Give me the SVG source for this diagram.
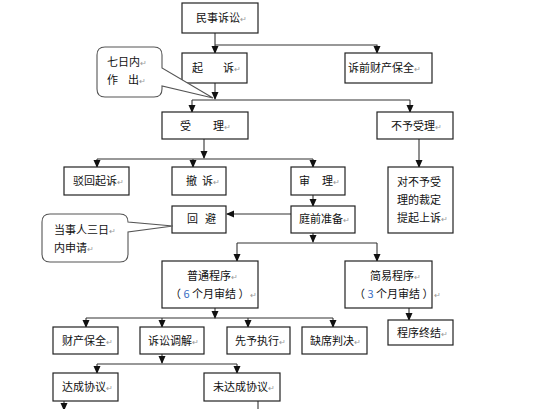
<svg xmlns="http://www.w3.org/2000/svg" width="536" height="409" viewBox="0 0 536 409">
<defs>
<marker id="ar" markerWidth="8" markerHeight="8" refX="7" refY="4" orient="auto" markerUnits="userSpaceOnUse">
<path d="M0,0.5 L8,4 L0,7.5 Z" fill="#111"/>
</marker>
<style>
.b{fill:#fff;stroke:#222;stroke-width:1.2}
.c{fill:#fff;stroke:#555;stroke-width:1.1}
.l{fill:none;stroke:#333;stroke-width:1.1}
.a{fill:none;stroke:#333;stroke-width:1.1;marker-end:url(#ar)}
text{font-family:"Noto Sans CJK SC","Noto Sans",sans-serif;font-size:11px;fill:#111}
.p{fill:#999;font-size:8px}
</style>
</defs>
<rect width="536" height="409" fill="#fff"/>
<g id="connectors">
<path class="a" d="M215,33 V53"/>
<path class="a" d="M215,45 H377 V53"/>
<path class="a" d="M215,83 V99"/>
<path class="l" d="M192,100 H410"/>
<path class="a" d="M192,100 V112"/>
<path class="a" d="M410,100 V112"/>
<path class="a" d="M204,139 V158"/>
<path class="l" d="M97,159 H313"/>
<path class="a" d="M97,159 V167"/>
<path class="a" d="M193,159 V167"/>
<path class="a" d="M313,159 V167"/>
<path class="a" d="M419,139 V167"/>
<path class="a" d="M313,195 V206"/>
<path class="a" d="M291,214 H227"/>
<path class="a" d="M313,233 V242"/>
<path class="l" d="M237,243 H377"/>
<path class="a" d="M237,243 V261"/>
<path class="a" d="M377,243 V261"/>
<path class="a" d="M215,308 V318"/>
<path class="l" d="M86,318 H333"/>
<path class="a" d="M86,318 V327"/>
<path class="a" d="M162,318 V327"/>
<path class="a" d="M248,318 V327"/>
<path class="a" d="M333,318 V327"/>
<path class="a" d="M409,308 V320"/>
<path class="a" d="M162,354 V363"/>
<path class="l" d="M97,364 H237"/>
<path class="a" d="M97,364 V373"/>
<path class="a" d="M237,364 V373"/>
<path class="a" d="M64,401 V410"/>
<path class="l" d="M258,401 V409"/>
</g>
<g id="n-minshi"><rect class="b" x="182" y="3" width="76" height="30"/><text x="196" y="22">民事诉讼<tspan class="p">↵</tspan></text></g>
<g id="n-qisu"><rect class="b" x="182" y="53" width="65" height="30"/><text x="192" y="72">起<tspan dx="20">诉</tspan><tspan class="p">↵</tspan></text></g>
<g id="n-suqian"><rect class="b" x="345" y="53" width="87" height="30"/><text x="348" y="72">诉前财产保全<tspan class="p">↵</tspan></text></g>
<g id="n-callout1"><path class="c" d="M105,47 H154 Q162,47 162,55 V68 L213,98 L162,86 V89 Q162,97 154,97 H105 Q97,97 97,89 V55 Q97,47 105,47 Z"/><text x="107" y="66">七日内<tspan class="p">↵</tspan></text><text x="107" y="84">作<tspan dx="10">出</tspan><tspan class="p">↵</tspan></text></g>
<g id="n-shouli"><rect class="b" x="162" y="112" width="86" height="27"/><text x="180" y="130">受<tspan dx="22">理</tspan><tspan class="p">↵</tspan></text></g>
<g id="n-buyu"><rect class="b" x="377" y="112" width="76" height="27"/><text x="391" y="130">不予受理<tspan class="p">↵</tspan></text></g>
<g id="n-bohui"><rect class="b" x="64" y="167" width="65" height="28"/><text x="73" y="185">驳回起诉<tspan class="p">↵</tspan></text></g>
<g id="n-chesu"><rect class="b" x="172" y="167" width="54" height="28"/><text x="186" y="185">撤<tspan dx="5">诉</tspan><tspan class="p">↵</tspan></text></g>
<g id="n-shenli"><rect class="b" x="291" y="167" width="54" height="28"/><text x="299" y="185">审<tspan dx="12">理</tspan><tspan class="p">↵</tspan></text></g>
<g id="n-caiding"><rect class="b" x="388" y="167" width="65" height="66"/><text x="397" y="186">对不予受</text><text x="397" y="204">理的裁定</text><text x="397" y="222">提起上诉<tspan class="p">↵</tspan></text></g>
<g id="n-huibi"><rect class="b" x="172" y="206" width="54" height="27"/><text x="187" y="223">回<tspan dx="7">避</tspan></text></g>
<g id="n-tingqian"><rect class="b" x="291" y="206" width="64" height="27"/><text x="299" y="223">庭前准备<tspan class="p">↵</tspan></text></g>
<g id="n-callout2"><path class="c" d="M50,214 H120 Q128,214 128,222 L173,226 L128,232 V254 Q128,262 120,262 H50 Q42,262 42,254 V222 Q42,214 50,214 Z"/><text x="54" y="234">当事人三日<tspan class="p">↵</tspan></text><text x="54" y="252">内申请<tspan class="p">↵</tspan></text></g>
<g id="n-putong"><rect class="b" x="162" y="261" width="96" height="47"/><text x="187" y="280">普通程序<tspan class="p">↵</tspan></text><text x="170" y="298">（ <tspan fill="#3a6fc4">6</tspan> 个月审结 ）<tspan class="p">↵</tspan></text></g>
<g id="n-jianyi"><rect class="b" x="345" y="261" width="87" height="47"/><text x="370" y="280">简易程序<tspan class="p">↵</tspan></text><text x="354" y="298">（ <tspan fill="#3a6fc4">3</tspan> 个月审结 ）<tspan class="p">↵</tspan></text></g>
<g id="n-caichan"><rect class="b" x="53" y="327" width="65" height="27"/><text x="62" y="345">财产保全<tspan class="p">↵</tspan></text></g>
<g id="n-tiaojie"><rect class="b" x="140" y="327" width="64" height="27"/><text x="148" y="345">诉讼调解<tspan class="p">↵</tspan></text></g>
<g id="n-xianyu"><rect class="b" x="227" y="327" width="63" height="27"/><text x="235" y="345">先予执行<tspan class="p">↵</tspan></text></g>
<g id="n-quexi"><rect class="b" x="302" y="327" width="65" height="27"/><text x="310" y="345">缺席判决<tspan class="p">↵</tspan></text></g>
<g id="n-zhongjie"><rect class="b" x="388" y="320" width="65" height="25"/><text x="397" y="337">程序终结<tspan class="p">↵</tspan></text></g>
<g id="n-dacheng"><rect class="b" x="53" y="373" width="65" height="28"/><text x="62" y="391">达成协议<tspan class="p">↵</tspan></text></g>
<g id="n-weida"><rect class="b" x="204" y="373" width="76" height="28"/><text x="213" y="391">未达成协议<tspan class="p">↵</tspan></text></g>
</svg>
